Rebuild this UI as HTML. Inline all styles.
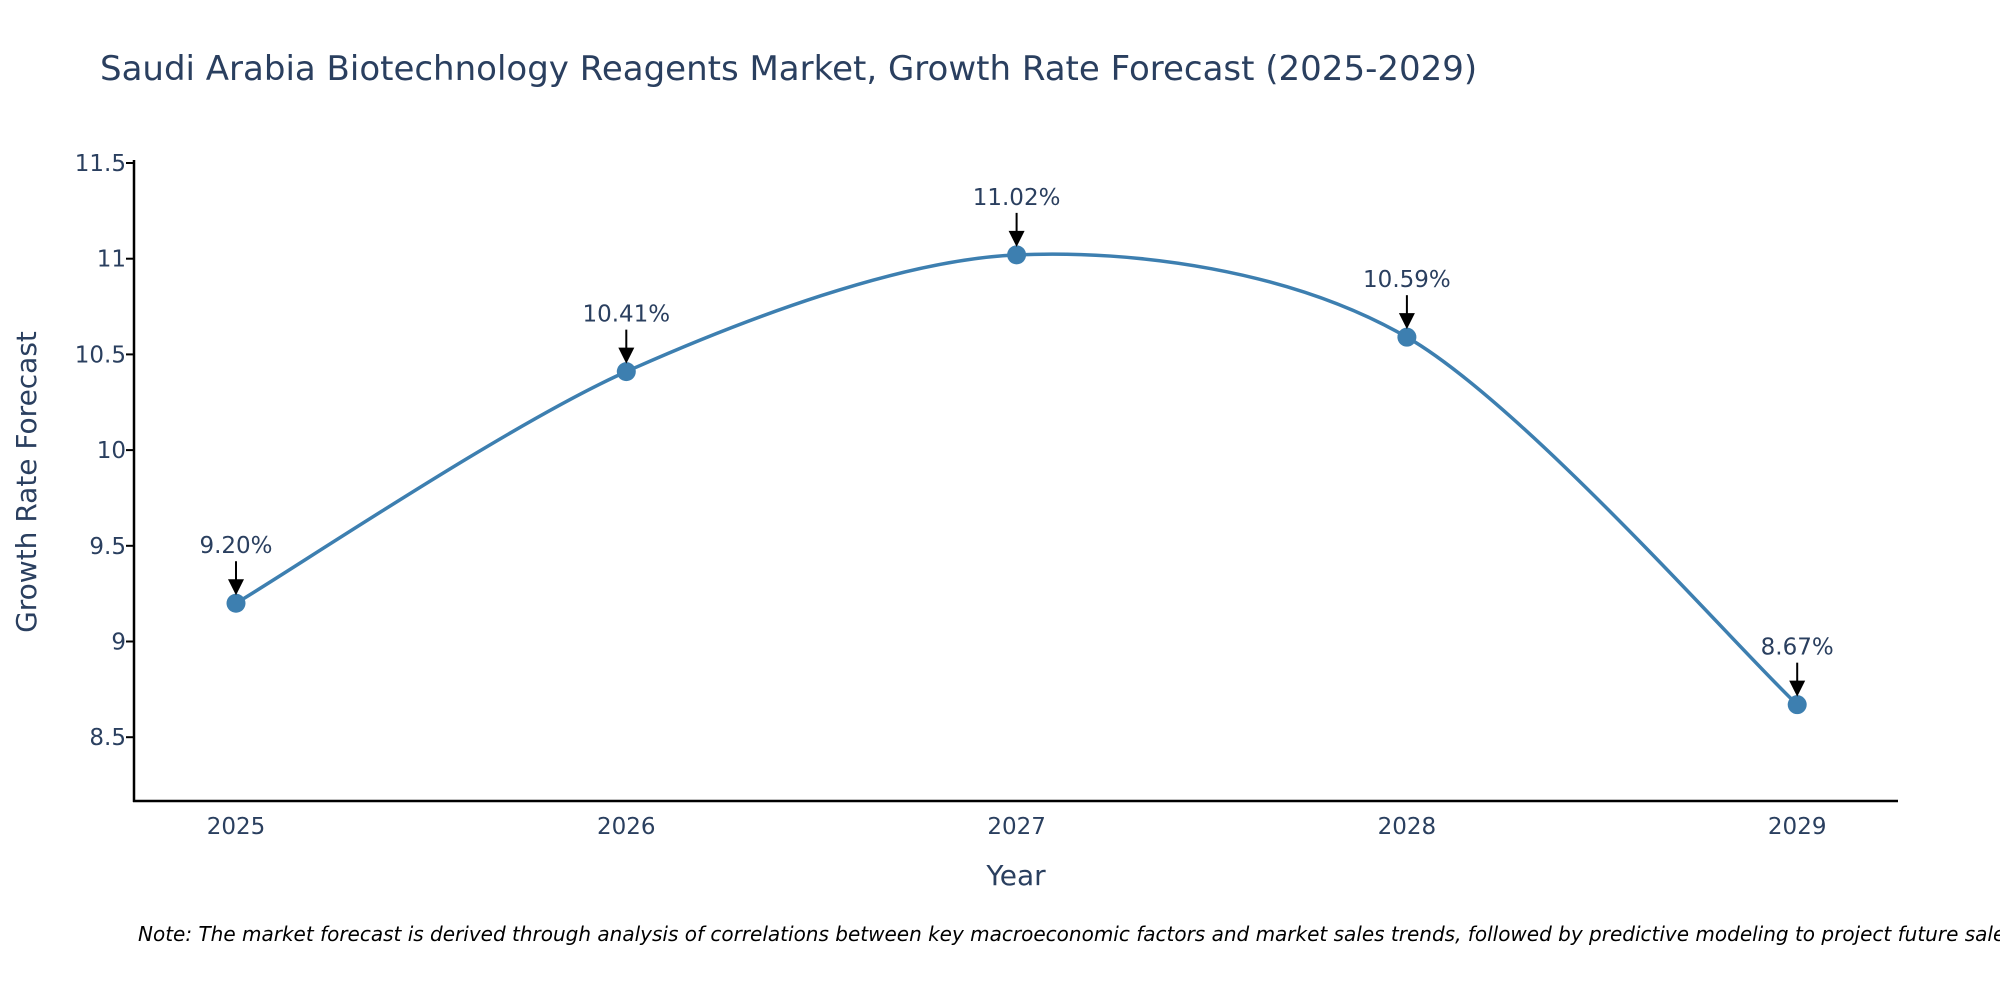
<!DOCTYPE html>
<html><head><meta charset="utf-8">
<style>
html,body{margin:0;padding:0;background:#fff;overflow:hidden;}
svg{display:block;font-family:"DejaVu Sans","Liberation Sans",sans-serif;}
</style></head>
<body>
<svg id="chart" width="2000" height="1000" viewBox="0 0 2000 1000">
<text x="100" y="80" font-size="34" fill="#2a3f5f">Saudi Arabia Biotechnology Reagents Market, Growth Rate Forecast (2025-2029)</text>
<g id="axes"></g>
<g id="series"></g>
<text x="30" y="482" font-size="28" fill="#2a3f5f" transform="rotate(-90 30 482)" text-anchor="middle" dy="6">Growth Rate Forecast</text>
<text x="1016" y="885" font-size="28" fill="#2a3f5f" text-anchor="middle">Year</text>
<text x="138" y="941" font-size="20" font-style="italic" fill="#000">Note: The market forecast is derived through analysis of correlations between key macroeconomic factors and market sales trends, followed by predictive modeling to project future sales.</text>
</svg>
<script>
const categories = ["2025","2026","2027","2028","2029"];
const values = [9.20, 10.41, 11.02, 10.59, 8.67];
const valueLabels = ["9.20%","10.41%","11.02%","10.59%","8.67%"];
const yTicks = [8.5, 9, 9.5, 10, 10.5, 11, 11.5];
const yTickLabels = ["8.5","9","9.5","10","10.5","11","11.5"];

const NS = "http://www.w3.org/2000/svg";
const plotL = 134, plotR = 1898, plotT = 140, plotB = 801;
const yMin = 8.1667, yMax = 11.5, yTopPx = 163;
function yScale(v){ return plotB - (v - yMin) / (yMax - yMin) * (plotB - yTopPx); }
function xScale(i){ return 236 + i * 390.3; }
function mk(tag, attrs, parent){ const e = document.createElementNS(NS, tag); for (const k in attrs) e.setAttribute(k, attrs[k]); parent.appendChild(e); return e; }

const axes = document.getElementById('axes');
const yl = mk('line', {x1: plotL, y1: plotT+20, x2: plotL, y2: plotB+1, stroke: '#000', 'stroke-width': 2.5}, axes);


const xl = mk('line', {x1: plotL-1, y1: plotB, x2: plotR, y2: plotB, stroke: '#000', 'stroke-width': 2.5}, axes);


yTicks.forEach((t, i) => {
  const y = yScale(t);
  const tk = mk('line', {x1: plotL-8, y1: y, x2: plotL, y2: y, stroke: '#000', 'stroke-width': 2}, axes);
  
  
  const tx = mk('text', {x: plotL-8, y: y + 8, 'font-size': 23, fill: '#2a3f5f', 'text-anchor': 'end'}, axes);
  tx.textContent = yTickLabels[i];
  
  
});
categories.forEach((c, i) => {
  const tx = mk('text', {x: xScale(i), y: 834, 'font-size': 23, fill: '#2a3f5f', 'text-anchor': 'middle'}, axes);
  tx.textContent = c;
  
  
});

const series = document.getElementById('series');
const pts = values.map((v, i) => [xScale(i), yScale(v)]);
let d = `M${pts[0][0]},${pts[0][1]}`;
const s = 0.15;
for (let i = 0; i < pts.length - 1; i++) {
  const p0 = pts[Math.max(i-1,0)], p1 = pts[i], p2 = pts[i+1], p3 = pts[Math.min(i+2, pts.length-1)];
  const c1 = [p1[0] + (p2[0]-p0[0])*s, p1[1] + (p2[1]-p0[1])*s];
  const c2 = [p2[0] - (p3[0]-p1[0])*s, p2[1] - (p3[1]-p1[1])*s];
  d += ` C${c1[0]},${c1[1]} ${c2[0]},${c2[1]} ${p2[0]},${p2[1]}`;
}
const line = mk('path', {d: d, fill: 'none', stroke: '#3d7fb0', 'stroke-width': 3.5}, series);


pts.forEach((p, i) => {
  const c = mk('circle', {cx: p[0], cy: p[1], r: 9.5, fill: '#3d7fb0'}, series);
  
  
  const a = mk('line', {x1: p[0], y1: p[1]-42, x2: p[0], y2: p[1]-20, stroke: '#000', 'stroke-width': 2}, series);
  
  
  const h = mk('polygon', {points: `${p[0]-8},${p[1]-24} ${p[0]+8},${p[1]-24} ${p[0]},${p[1]-8}`, fill: '#000'}, series);
  
  
  const t = mk('text', {x: p[0], y: p[1]-50, 'font-size': 23, fill: '#2a3f5f', 'text-anchor': 'middle'}, series);
  t.textContent = valueLabels[i];
  
  
});
</script>
</body></html>
